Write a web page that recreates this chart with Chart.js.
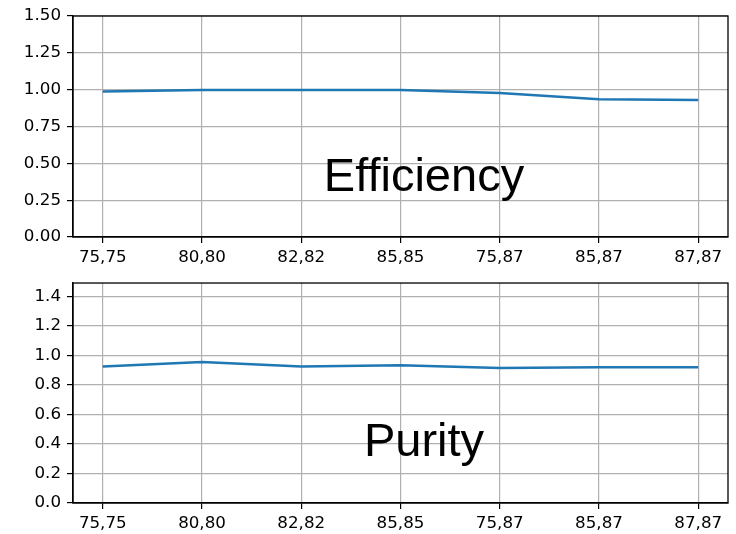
<!DOCTYPE html>
<html>
<head>
<meta charset="utf-8">
<script src="https://cdn.jsdelivr.net/npm/chart.js@4"></script>
<style>
    html, body { margin: 0; padding: 0; background: #fff; }
    .wrap { width: 736px; height: 267px; position: relative; }
    canvas { display: block; }
</style>
</head>
<body>
<div class="wrap"><canvas id="chart1" width="736" height="267"></canvas></div>
<div class="wrap"><canvas id="chart2" width="736" height="267"></canvas></div>
<script>
const categories = ['75,75', '80,80', '82,82', '85,85', '75,87', '85,87', '87,87'];
const efficiency = [0.988, 0.997, 0.997, 0.998, 0.977, 0.935, 0.930];
const purity = [0.925, 0.955, 0.925, 0.933, 0.915, 0.920, 0.920];
const effTicks = [0, 0.25, 0.5, 0.75, 1.0, 1.25, 1.5];
const purTicks = [0, 0.2, 0.4, 0.6, 0.8, 1.0, 1.2, 1.4];

const tickFont = { family: 'DejaVu Sans', size: 16.7 };

// frame around the plot area plus the big label inside it
const framePlugin = {
    id: 'frame',
    afterDraw(chart, args, opts) {
        const a = chart.chartArea;
        const ctx = chart.ctx;
        ctx.save();
        ctx.strokeStyle = '#000';
        ctx.lineWidth = 1.3;
        ctx.strokeRect(a.left, a.top, a.right - a.left, a.bottom - a.top);
        ctx.fillStyle = '#000';
        ctx.font = '47px "Liberation Sans", Arial, sans-serif';
        ctx.textAlign = 'center';
        ctx.textBaseline = 'alphabetic';
        ctx.fillText(opts.text, opts.x, opts.y);
        ctx.restore();
    }
};

function makeChart(id, values, yTicks, yMax, decimals, label, labelY, xHeight) {
    const ctx = document.getElementById(id).getContext('2d');
    return new Chart(ctx, {
        type: 'line',
        data: {
            datasets: [{
                data: values.map((v, i) => ({ x: i, y: v })),
                borderColor: '#1f77b4',
                borderWidth: 2.5,
                tension: 0,
                pointRadius: 0,
                fill: false
            }]
        },
        plugins: [framePlugin],
        options: {
            responsive: false,
            animation: false,
            layout: { padding: { top: 14, right: 8, left: 0, bottom: 0 } },
            plugins: {
                legend: { display: false },
                tooltip: { enabled: false },
                frame: { text: label, x: 424, y: labelY }
            },
            scales: {
                x: {
                    type: 'linear',
                    min: -0.3,
                    max: 6.3,
                    afterBuildTicks: (s) => { s.ticks = categories.map((c, i) => ({ value: i })); },
                    afterFit: (s) => { s.height = xHeight; },
                    ticks: {
                        callback: (v) => categories[v],
                        font: tickFont,
                        color: '#000',
                        padding: 5,
                        maxRotation: 0,
                        autoSkip: false
                    },
                    grid: { color: '#b0b0b0', lineWidth: 1.2, tickLength: 6, tickColor: '#000' },
                    border: { color: '#000', width: 1.3 }
                },
                y: {
                    min: 0,
                    max: yMax,
                    afterBuildTicks: (s) => { s.ticks = yTicks.map(v => ({ value: v })); },
                    afterFit: (s) => { s.width = 73; },
                    ticks: {
                        callback: (v) => v.toFixed(decimals),
                        font: tickFont,
                        color: '#000',
                        padding: 6
                    },
                    grid: { color: '#b0b0b0', lineWidth: 1.2, tickLength: 6, tickColor: '#000' },
                    border: { color: '#000', width: 1.3 }
                }
            }
        }
    });
}

makeChart('chart1', efficiency, effTicks, 1.5, 2, 'Efficiency', 191, 30);
makeChart('chart2', purity, purTicks, 1.49, 1, 'Purity', 189, 31);
</script>
</body>
</html>
